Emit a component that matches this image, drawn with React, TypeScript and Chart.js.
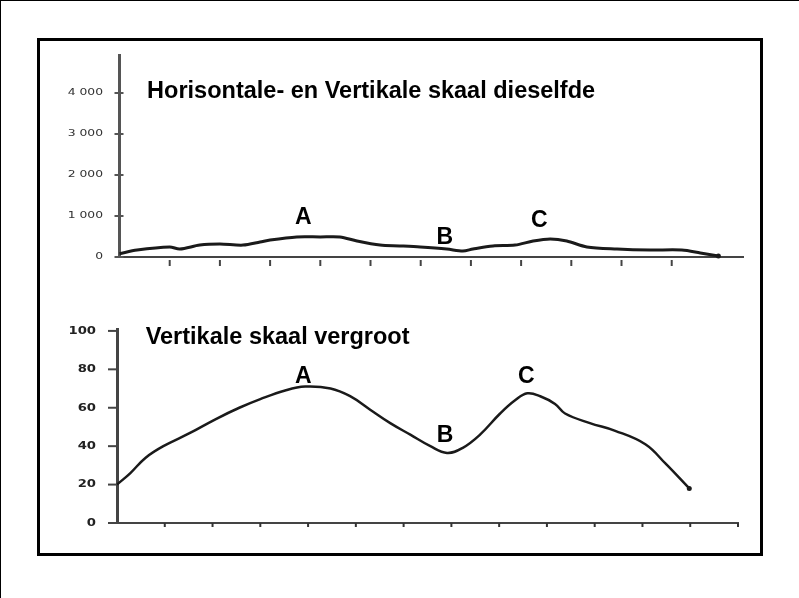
import React, { useEffect, useRef } from "react";
import { Chart, registerables } from "chart.js";

Chart.register(...registerables);

// ---- Top chart (same horizontal and vertical scale) ----
const topX = [0, 0.35, 1.0, 1.2, 1.6, 2.0, 2.46, 2.8, 3.0, 3.53, 4.0, 4.39, 4.73, 5.19, 5.58, 5.99, 6.52, 6.84, 7.04, 7.44, 7.88, 8.24, 8.58, 8.91, 9.31, 9.91, 10.57, 11.2, 11.57, 11.93];
const topY = [80, 170, 245, 195, 290, 315, 290, 365, 415, 490, 490, 490, 390, 290, 270, 245, 195, 145, 195, 270, 290, 390, 440, 390, 245, 195, 170, 170, 100, 25];
const topYTicks = [0, 1000, 2000, 3000, 4000];
const topYLabels = ["0", "1 000", "2 000", "3 000", "4 000"];
const topXTicks = [1, 2, 3, 4, 5, 6, 7, 8, 9, 10, 11];
const topTitle = "Horisontale- en Vertikale skaal dieselfde";
const topTitleX = 0.55;
const topTitleY = 4030;
const topMarks = ["A", "B", "C"];
const topMarkX = [3.66, 6.48, 8.36];
const topMarkY = [951, 463, 878];

// ---- Bottom chart (vertical scale enlarged) ----
const bottomX = [0, 0.28, 0.6, 0.97, 1.54, 2.06, 2.56, 3.0, 3.52, 3.94, 4.47, 4.88, 5.3, 5.72, 6.14, 6.56, 6.91, 7.23, 7.6, 8.02, 8.34, 8.59, 8.86, 9.17, 9.38, 9.9, 10.43, 11.06, 11.48, 11.98];
const bottomY = [20, 26, 34, 40, 47, 54, 60, 64.5, 69, 71, 70, 66, 59, 52, 46, 40, 36.5, 39, 46, 57, 64, 67.5, 66, 62, 57, 52, 48, 41, 31, 18];
const bottomYTicks = [0, 20, 40, 60, 80, 100];
const bottomYLabels = ["0", "20", "40", "60", "80", "100"];
const bottomXTicks = [1, 2, 3, 4, 5, 6, 7, 8, 9, 10, 11, 12, 13];
const bottomTitle = "Vertikale skaal vergroot";
const bottomTitleX = 0.6;
const bottomTitleY = 96.4;
const bottomMarks = ["A", "B", "C"];
const bottomMarkX = [3.9, 6.87, 8.57];
const bottomMarkY = [76, 45.3, 76];

type Decor = {
  yTicks: number[];
  yLabels: string[];
  xTicks: number[];
  yTickOut: number;
  yTickIn: number;
  yTickColor: string;
  xTickStart: number;
  xTickEnd: number;
  xTickColor: string;
  tickWidth: number;
  labelFont: string;
  labelColor: string;
  labelSx: number;
  labelGap: number;
  texts: { text: string; x: number; y: number; font: string; align: CanvasTextAlign }[];
};

function makeDecor(d: Decor) {
  return {
    id: "decor",
    afterDraw(chart: any) {
      const ctx = chart.ctx as CanvasRenderingContext2D;
      const xs = chart.scales.x;
      const ys = chart.scales.y;
      const { left, bottom } = chart.chartArea;
      ctx.save();
      ctx.lineWidth = d.tickWidth;
      d.yTicks.forEach((v, i) => {
        const y = ys.getPixelForValue(v);
        ctx.strokeStyle = d.yTickColor;
        ctx.beginPath();
        ctx.moveTo(left - d.yTickOut, y);
        ctx.lineTo(left + d.yTickIn, y);
        ctx.stroke();
        ctx.save();
        ctx.translate(left - d.labelGap, y);
        ctx.scale(d.labelSx, 1);
        ctx.font = d.labelFont;
        ctx.fillStyle = d.labelColor;
        ctx.textAlign = "right";
        ctx.textBaseline = "middle";
        ctx.fillText(d.yLabels[i], 0, 0);
        ctx.restore();
      });
      d.xTicks.forEach((v) => {
        const x = xs.getPixelForValue(v);
        ctx.strokeStyle = d.xTickColor;
        ctx.beginPath();
        ctx.moveTo(x, bottom + d.xTickStart);
        ctx.lineTo(x, bottom + d.xTickEnd);
        ctx.stroke();
      });
      d.texts.forEach((t) => {
        ctx.font = t.font;
        ctx.fillStyle = "#000";
        ctx.textAlign = t.align;
        ctx.textBaseline = "middle";
        ctx.fillText(t.text, xs.getPixelForValue(t.x), ys.getPixelForValue(t.y));
      });
      ctx.restore();
    },
  };
}

function makeConfig(opts: {
  xs: number[];
  ys: number[];
  xMax: number;
  yMax: number;
  lineWidth: number;
  tension: number;
  yAxisWidth: number;
  xAxisHeight: number;
  padTop: number;
  padRight: number;
  xBorder: { color: string; width: number };
  yBorder: { color: string; width: number };
  decor: Decor;
}): any {
  const n = opts.xs.length;
  return {
    type: "line",
    data: {
      datasets: [
        {
          data: opts.xs.map((x, i) => ({ x, y: opts.ys[i] })),
          borderColor: "#1a1a1a",
          backgroundColor: "#1a1a1a",
          borderWidth: opts.lineWidth,
          tension: opts.tension,
          pointRadius: (c: any) => (c.dataIndex === n - 1 ? 2.5 : 0),
          pointBorderWidth: 0,
          fill: false,
          clip: 4,
        },
      ],
    },
    options: {
      animation: false,
      responsive: true,
      maintainAspectRatio: false,
      devicePixelRatio: 1,
      layout: { padding: { top: opts.padTop, right: opts.padRight, left: 0, bottom: 0 } },
      plugins: { legend: { display: false }, tooltip: { enabled: false }, title: { display: false } },
      events: [],
      scales: {
        x: {
          type: "linear",
          min: 0,
          max: opts.xMax,
          grid: { display: false },
          ticks: { display: false },
          border: { display: true, color: opts.xBorder.color, width: opts.xBorder.width },
          afterFit: (s: any) => {
            s.height = opts.xAxisHeight;
          },
        },
        y: {
          type: "linear",
          min: 0,
          max: opts.yMax,
          grid: { display: false },
          ticks: { display: false },
          border: { display: true, color: opts.yBorder.color, width: opts.yBorder.width },
          afterFit: (s: any) => {
            s.width = opts.yAxisWidth;
          },
        },
      },
    },
    plugins: [makeDecor(opts.decor)],
  };
}

function ChartBox({ config, style }: { config: any; style: React.CSSProperties }) {
  const ref = useRef<HTMLCanvasElement | null>(null);
  useEffect(() => {
    if (!ref.current) return;
    const chart = new Chart(ref.current, config);
    return () => chart.destroy();
  }, [config]);
  return (
    <div style={{ position: "absolute", ...style }}>
      <canvas ref={ref} />
    </div>
  );
}

const titleFont = 'bold 23.5px "Liberation Sans", Arial, sans-serif';
const markFont = 'bold 23px "Liberation Sans", Arial, sans-serif';

const topConfig = makeConfig({
  xs: topX,
  ys: topY,
  xMax: 12.42,
  yMax: 4927,
  lineWidth: 3,
  tension: 0.3,
  yAxisWidth: 79.5,
  xAxisHeight: 34,
  padTop: 14,
  padRight: 17,
  xBorder: { color: "#444", width: 2 },
  yBorder: { color: "#555", width: 3 },
  decor: {
    yTicks: topYTicks,
    yLabels: topYLabels,
    xTicks: topXTicks,
    yTickOut: 5,
    yTickIn: 4,
    yTickColor: "#555",
    xTickStart: 3,
    xTickEnd: 9,
    xTickColor: "#444",
    tickWidth: 2,
    labelFont: '9.5px "DejaVu Sans", sans-serif',
    labelColor: "#333",
    labelSx: 1.3,
    labelGap: 16.5,
    texts: [
      { text: topTitle, x: topTitleX, y: topTitleY, font: titleFont, align: "left" },
      ...topMarks.map((m, i) => ({ text: m, x: topMarkX[i], y: topMarkY[i], font: markFont, align: "center" as CanvasTextAlign })),
    ],
  },
});

const bottomConfig = makeConfig({
  xs: bottomX,
  ys: bottomY,
  xMax: 13,
  yMax: 101,
  lineWidth: 2.5,
  tension: 0.4,
  yAxisWidth: 77,
  xAxisHeight: 29,
  padTop: 29,
  padRight: 22,
  xBorder: { color: "#444", width: 2 },
  yBorder: { color: "#444", width: 3 },
  decor: {
    yTicks: bottomYTicks,
    yLabels: bottomYLabels,
    xTicks: bottomXTicks,
    yTickOut: 9,
    yTickIn: 0,
    yTickColor: "#444",
    xTickStart: 0,
    xTickEnd: 4,
    xTickColor: "#333",
    tickWidth: 2,
    labelFont: 'bold 11px "DejaVu Sans", sans-serif',
    labelColor: "#222",
    labelSx: 1.2,
    labelGap: 21,
    texts: [
      { text: bottomTitle, x: bottomTitleX, y: bottomTitleY, font: titleFont, align: "left" },
      ...bottomMarks.map((m, i) => ({ text: m, x: bottomMarkX[i], y: bottomMarkY[i], font: markFont, align: "center" as CanvasTextAlign })),
    ],
  },
});

export default function App() {
  return (
    <div style={{ position: "absolute", left: 0, top: 0, width: 799, height: 598, background: "#fff", overflow: "hidden" }}>
      <div style={{ position: "absolute", left: 0, top: 0, width: 799, height: 1, background: "#000" }} />
      <div style={{ position: "absolute", left: 0, top: 0, width: 1, height: 598, background: "#000" }} />
      <div
        style={{
          position: "absolute",
          left: 37,
          top: 38,
          width: 726,
          height: 518,
          border: "3px solid #000",
          boxSizing: "border-box",
        }}
      />
      <ChartBox config={topConfig} style={{ left: 40, top: 41, width: 720, height: 250 }} />
      <ChartBox config={bottomConfig} style={{ left: 40, top: 300, width: 720, height: 252 }} />
    </div>
  );
}
